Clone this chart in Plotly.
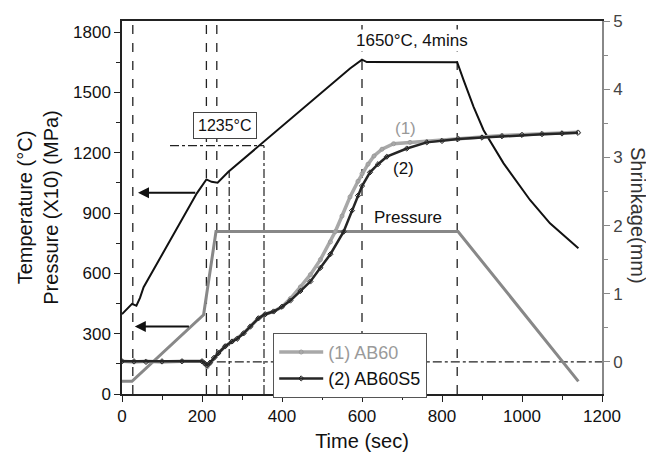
import plotly.graph_objects as go

# ---------------- data ----------------
time_temp = [0, 25, 36, 45, 54, 187, 211, 224, 239, 266, 570, 600, 612, 700, 800, 838,
             854, 879, 904, 954, 1020, 1070, 1141]
temperature = [397, 448, 439, 478, 531, 998, 1067, 1055, 1051, 1105, 1619, 1663, 1651, 1651,
               1651, 1650, 1561, 1428, 1312, 1147, 965, 849, 725]

time_press = [0, 25, 204, 235, 840, 1141]
pressure_x10 = [63, 63, 394, 808, 808, 63]

t_ab60 = [0, 30, 60, 100, 150, 200, 207, 213, 220, 230, 241, 258, 275, 288, 304, 321, 341, 358,
          379, 400, 421, 446, 471, 496, 521, 533, 550, 570, 590, 600, 615, 630, 650, 679, 720,
          762, 800, 840, 900, 950, 1000, 1050, 1100, 1140]
s_ab60 = [0.01, 0.0, 0.01, 0.0, 0.01, 0.01, -0.03, -0.07, -0.02, 0.06, 0.13, 0.23, 0.30, 0.34,
          0.42, 0.52, 0.64, 0.70, 0.74, 0.81, 0.93, 1.10, 1.28, 1.50, 1.76, 1.91, 2.14, 2.42,
          2.65, 2.76, 2.90, 3.02, 3.12, 3.20, 3.22, 3.23, 3.25, 3.28, 3.30, 3.32, 3.33, 3.35,
          3.36, 3.37]

t_ab60s5 = [0, 30, 60, 100, 150, 200, 207, 213, 220, 230, 241, 258, 275, 288, 304, 321, 341,
            358, 379, 400, 421, 446, 471, 496, 521, 554, 575, 590, 600, 620, 640, 662, 712, 762,
            800, 840, 900, 950, 1000, 1050, 1100, 1140]
s_ab60s5 = [0.01, 0.01, 0.0, 0.01, 0.01, 0.01, -0.02, -0.05, -0.01, 0.06, 0.13, 0.23, 0.30,
            0.34, 0.42, 0.52, 0.64, 0.70, 0.74, 0.81, 0.90, 1.04, 1.18, 1.38, 1.58, 1.91, 2.22,
            2.44, 2.58, 2.78, 2.90, 3.01, 3.13, 3.22, 3.24, 3.27, 3.29, 3.31, 3.33, 3.34, 3.35,
            3.36]

x_ticks = [0, 200, 400, 600, 800, 1000, 1200]
y_ticks = [0, 300, 600, 900, 1200, 1500, 1800]
y2_ticks = [0, 1, 2, 3, 4, 5]

dashed_times = [27, 211, 237, 600, 838]      # event lines (full height)
dashdot_times = [(268, 1108), (355, 1235)]    # (time, top temperature)
level_1235 = 1235
level_1235_from = 120

FONT = "Liberation Sans, Arial, Helvetica, sans-serif"

# the page body adds an 8px offset; size the figure so it fits the 654x453 window
BODY = 8
W, H = 654 - BODY, 453 - BODY

fig = go.Figure()

# temperature
fig.add_trace(go.Scatter(x=time_temp, y=temperature, mode="lines",
                         line=dict(color="#111111", width=2), showlegend=False,
                         hoverinfo="skip"))
# pressure
fig.add_trace(go.Scatter(x=time_press, y=pressure_x10, mode="lines",
                         line=dict(color="#888888", width=3), showlegend=False,
                         hoverinfo="skip"))
# shrinkage curves (right axis)
fig.add_trace(go.Scatter(x=t_ab60, y=s_ab60, mode="lines+markers", yaxis="y2",
                         name="<span style='color:#9a9a9a'>(1) AB60</span>",
                         line=dict(color="#a8a8a8", width=3.5),
                         marker=dict(symbol="circle-open", size=4, color="#9a9a9a",
                                     line=dict(width=1))))
fig.add_trace(go.Scatter(x=t_ab60s5, y=s_ab60s5, mode="lines+markers", yaxis="y2",
                         name="(2) AB60S5",
                         line=dict(color="#262626", width=2.5),
                         marker=dict(symbol="diamond-open", size=4, color="#262626",
                                     line=dict(width=1))))

shapes = []
for t in dashed_times:
    shapes.append(dict(type="line", xref="x", yref="paper", x0=t, x1=t, y0=0, y1=1,
                       line=dict(color="#222222", width=1.3, dash="dash"), layer="below"))
for t, top in dashdot_times:
    shapes.append(dict(type="line", xref="x", yref="y", x0=t, x1=t, y0=0, y1=top,
                       line=dict(color="#222222", width=1.2, dash="dashdot"), layer="below"))
shapes.append(dict(type="line", xref="x", yref="y", x0=level_1235_from, x1=dashdot_times[1][0],
                   y0=level_1235, y1=level_1235,
                   line=dict(color="#222222", width=1.2, dash="dashdot"), layer="below"))
shapes.append(dict(type="line", xref="x", yref="y2", x0=237, x1=1200, y0=0, y1=0,
                   line=dict(color="#222222", width=1.2, dash="dashdot"), layer="below"))

annotations = [
    dict(x=726, y=1757, xref="x", yref="y", text="1650°C, 4mins", showarrow=False,
         font=dict(size=17, color="#111111", family=FONT), bgcolor="white"),
    dict(x=257, y=1337, xref="x", yref="y", text="1235°C", showarrow=False,
         font=dict(size=16, color="#111111", family=FONT), bgcolor="white",
         bordercolor="#444444", borderwidth=1, borderpad=4),
    dict(x=716, y=879, xref="x", yref="y", text="Pressure", showarrow=False,
         font=dict(size=17, color="#111111", family=FONT)),
    dict(x=708, y=3.43, xref="x", yref="y2", text="(1)", showarrow=False,
         font=dict(size=17, color="#999999", family=FONT)),
    dict(x=704, y=2.84, xref="x", yref="y2", text="(2)", showarrow=False,
         font=dict(size=17, color="#111111", family=FONT)),
    dict(x=40, y=1001, xref="x", yref="y", ax=187, ay=1001, axref="x", ayref="y", text="",
         showarrow=True, arrowhead=2, arrowsize=1.1, arrowwidth=2, arrowcolor="#111111"),
    dict(x=32, y=336, xref="x", yref="y", ax=171, ay=336, axref="x", ayref="y", text="",
         showarrow=True, arrowhead=2, arrowsize=1.1, arrowwidth=2, arrowcolor="#111111"),
    dict(x=1.075, y=0.48, xref="paper", yref="paper", text="Shrinkage(mm)", textangle=90,
         xanchor="center", yanchor="middle",
         showarrow=False, font=dict(size=20, color="#333333", family=FONT)),
]

fig.update_layout(
    width=W, height=H,
    margin=dict(l=122 - BODY, r=52, t=21 - BODY, b=59, autoexpand=False),
    paper_bgcolor="white", plot_bgcolor="white",
    font=dict(family=FONT, size=17, color="#111111"),
    shapes=shapes, annotations=annotations,
    xaxis=dict(range=[0, 1200], tickvals=x_ticks, ticks="outside", ticklen=6, tickwidth=1.2,
               minor=dict(dtick=100, ticks="outside", ticklen=4, tickcolor="#222222"),
               showline=True, linecolor="#222222", linewidth=1.5, mirror=True,
               showgrid=False, zeroline=False, tickcolor="#222222", automargin=False,
               title=dict(text="Time (sec)", font=dict(size=20), standoff=9)),
    yaxis=dict(range=[0, 1855], tickvals=y_ticks, ticks="outside", ticklen=6, tickwidth=1.2,
               minor=dict(dtick=150, ticks="outside", ticklen=4, tickcolor="#222222"),
               showline=True, linecolor="#222222", linewidth=1.5, automargin=False,
               showgrid=False, zeroline=False, tickcolor="#222222",
               title=dict(text="Temperature (°C)<br>Pressure (X10) (MPa)",
                          font=dict(size=20), standoff=9)),
    yaxis2=dict(range=[-0.47, 5.0], tickvals=y2_ticks, overlaying="y", side="right",
                ticks="outside", ticklen=6, tickwidth=1.2, automargin=False,
                minor=dict(dtick=0.5, ticks="outside", ticklen=4, tickcolor="#888888"),
                showline=True, linecolor="#888888", linewidth=1.5, tickcolor="#888888",
                tickfont=dict(color="#444444"),
                showgrid=False, zeroline=False),
    legend=dict(x=0.315, y=0.164, xanchor="left", yanchor="top", bgcolor="white",
                bordercolor="#555555", borderwidth=1, font=dict(size=18),
                itemwidth=44, tracegroupgap=0),
    showlegend=True,
)

fig.write_html("out.html")
